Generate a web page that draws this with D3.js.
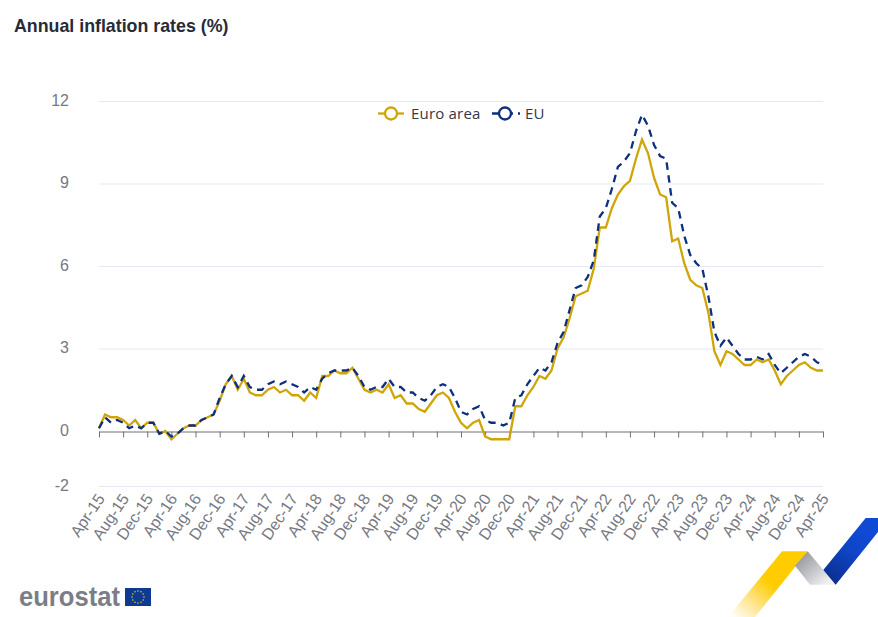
<!DOCTYPE html>
<html>
<head>
<meta charset="utf-8">
<script src="https://cdn.jsdelivr.net/npm/d3@7"></script>
<style>
  html, body { margin: 0; padding: 0; background: #fff; overflow: hidden; }
  svg { display: block; }
  text { font-family: "Liberation Sans", Arial, sans-serif; }
</style>
</head>
<body>
<div id="chart"></div>
<script>
var months = ["Jan","Feb","Mar","Apr","May","Jun","Jul","Aug","Sep","Oct","Nov","Dec"];

var euroArea = [
  0.1, 0.6, 0.5, 0.5, 0.4, 0.2, 0.4, 0.1, 0.3,
  0.3, -0.1, 0.0, -0.3, -0.1, 0.1, 0.2, 0.2, 0.4, 0.5, 0.6, 1.1,
  1.7, 2.0, 1.5, 1.9, 1.4, 1.3, 1.3, 1.5, 1.6, 1.4, 1.5, 1.3,
  1.3, 1.1, 1.4, 1.2, 2.0, 2.0, 2.2, 2.1, 2.1, 2.3, 1.9, 1.5,
  1.4, 1.5, 1.4, 1.7, 1.2, 1.3, 1.0, 1.0, 0.8, 0.7, 1.0, 1.3,
  1.4, 1.2, 0.7, 0.3, 0.1, 0.3, 0.4, -0.2, -0.3, -0.3, -0.3, -0.3,
  0.9, 0.9, 1.3, 1.6, 2.0, 1.9, 2.2, 3.0, 3.4, 4.1, 4.9, 5.0,
  5.1, 5.9, 7.4, 7.4, 8.1, 8.6, 8.9, 9.1, 9.9, 10.6, 10.1, 9.2,
  8.6, 8.5, 6.9, 7.0, 6.1, 5.5, 5.3, 5.2, 4.3, 2.9, 2.4, 2.9,
  2.8, 2.6, 2.4, 2.4, 2.6, 2.5, 2.6, 2.2, 1.7, 2.0, 2.2, 2.4,
  2.5, 2.3, 2.2, 2.2
];

var eu = [
  0.1, 0.5, 0.3, 0.4, 0.3, 0.1, 0.2, 0.1, 0.3,
  0.3, -0.1, 0.0, -0.2, -0.1, 0.1, 0.2, 0.2, 0.4, 0.5, 0.6, 1.2,
  1.7, 2.0, 1.6, 2.0, 1.6, 1.5, 1.5, 1.7, 1.8, 1.7, 1.8, 1.7,
  1.6, 1.4, 1.6, 1.5, 1.9, 2.1, 2.2, 2.2, 2.2, 2.3, 2.0, 1.6,
  1.5, 1.6, 1.6, 1.9, 1.6, 1.6, 1.4, 1.4, 1.2, 1.1, 1.3, 1.6,
  1.7, 1.6, 1.2, 0.7, 0.6, 0.8, 0.9, 0.4, 0.3, 0.3, 0.2, 0.3,
  1.2, 1.3, 1.7, 2.0, 2.3, 2.2, 2.5, 3.2, 3.6, 4.4, 5.2, 5.3,
  5.6, 6.2, 7.8, 8.1, 8.8, 9.6, 9.8, 10.1, 10.9, 11.5, 11.1, 10.4,
  10.0, 9.9, 8.3, 8.1, 7.1, 6.4, 6.1, 5.9, 4.9, 3.6, 3.1, 3.4,
  3.1, 2.8, 2.6, 2.6, 2.7, 2.6, 2.8, 2.4, 2.1, 2.3, 2.5, 2.7,
  2.8, 2.7, 2.5, 2.4
];

var yTicks = [-2, 0, 3, 6, 9, 12];

// Apr-15 .. Apr-25, one label per month, every 4th gets a tick
var periods = euroArea.map(function (d, i) {
  var m = 3 + i;
  return months[m % 12] + "-" + (15 + Math.floor(m / 12));
});
var xTicks = periods.filter(function (d, i) { return i % 4 === 0; });

var width = 878, height = 617;
var GOLD = "#cfa508", BLUE = "#0e2f7e", GREY = "#767983";

var svg = d3.select("#chart").append("svg")
  .attr("width", width)
  .attr("height", height);

var x = d3.scalePoint().domain(periods).range([99, 823]);
var y = d3.scaleLinear().domain([-2, 12]).range([486, 101]);

svg.append("text")
  .attr("x", 14).attr("y", 32)
  .attr("font-size", 17.8).attr("font-weight", "bold")
  .attr("fill", "#262b38")
  .text("Annual inflation rates (%)");

// gridlines
svg.append("g").selectAll("line")
  .data(yTicks.filter(function (d) { return d !== 0; }))
  .enter().append("line")
  .attr("x1", 99).attr("x2", 823)
  .attr("y1", function (d) { return y(d) + 0.5; })
  .attr("y2", function (d) { return y(d) + 0.5; })
  .attr("stroke", "#e6e9f3");

var yAxis = svg.append("g")
  .attr("transform", "translate(99,-1)")
  .call(d3.axisLeft(y).tickValues(yTicks).tickFormat(String).tickSize(0).tickPadding(30));
yAxis.select(".domain").remove();
yAxis.selectAll("text").attr("font-size", 16).attr("fill", GREY).style("font-family", '"Liberation Sans", Arial, sans-serif');

// x axis sits on zero, labels hang below the -2 gridline
var xAxis = svg.append("g")
  .attr("transform", "translate(0," + (y(0) + 0.5) + ")")
  .call(d3.axisBottom(x).tickValues(xTicks).tickSize(6).tickSizeOuter(0).tickPadding(0));
xAxis.select(".domain").attr("stroke", "#6f7177");
xAxis.selectAll(".tick line").attr("stroke", "#6f7177");
xAxis.selectAll("text")
  .attr("font-size", 16).attr("fill", GREY)
  .style("font-family", '"Liberation Sans", Arial, sans-serif')
  .attr("text-anchor", "end")
  .attr("dy", null).attr("y", null)
  .attr("transform", "translate(6,67) rotate(-56)");

var line = d3.line()
  .x(function (d, i) { return x(periods[i]); })
  .y(function (d) { return y(d); });

svg.append("path").datum(euroArea)
  .attr("d", line).attr("fill", "none")
  .attr("stroke", GOLD).attr("stroke-width", 2.3);

svg.append("path").datum(eu)
  .attr("d", line).attr("fill", "none")
  .attr("stroke", BLUE).attr("stroke-width", 2.3)
  .attr("stroke-dasharray", "7.5,5.5");

// legend
var legend = svg.append("g").attr("class", "legend");
function legendItem(x0, len, label, color, dash) {
  legend.append("line")
    .attr("x1", x0).attr("x2", x0 + len)
    .attr("y1", 113.5).attr("y2", 113.5)
    .attr("stroke", color).attr("stroke-width", 2.3)
    .attr("stroke-dasharray", dash);
  legend.append("circle")
    .attr("cx", x0 + 13).attr("cy", 113.5).attr("r", 6)
    .attr("fill", "#fff").attr("stroke", color).attr("stroke-width", 2.3);
  legend.append("text")
    .attr("x", x0 + 33).attr("y", 118.5)
    .attr("font-size", 15)
    .attr("letter-spacing", 0.2)
    .style("font-family", '"Open Sans", sans-serif')
    .attr("fill", "#333846")
    .text(label);
}
legendItem(378, 26, "Euro area", GOLD, null);
legendItem(492, 28, "EU", BLUE, "21,5");

// eurostat logo
svg.append("text")
  .attr("x", 19).attr("y", 606)
  .attr("font-size", 27).attr("font-weight", "bold")
  .attr("textLength", 101).attr("lengthAdjust", "spacingAndGlyphs")
  .attr("fill", "#7b7e86")
  .text("eurostat");
svg.append("rect")
  .attr("x", 125).attr("y", 588).attr("width", 26).attr("height", 18)
  .attr("fill", "#0f3a94");
svg.append("g").selectAll("circle")
  .data(d3.range(12))
  .enter().append("circle")
  .attr("cx", function (d) { return 138 + 6 * Math.cos(d * Math.PI / 6); })
  .attr("cy", function (d) { return 597 + 6 * Math.sin(d * Math.PI / 6); })
  .attr("r", 0.8)
  .attr("fill", "#e2c22a");

// ribbon in the bottom right corner
var defs = svg.append("defs");
function gradient(id, x1, y1, x2, y2, stops) {
  var g = defs.append("linearGradient").attr("id", id)
    .attr("gradientUnits", "userSpaceOnUse")
    .attr("x1", x1).attr("y1", y1).attr("x2", x2).attr("y2", y2);
  stops.forEach(function (s) {
    g.append("stop").attr("offset", s[0]).attr("stop-color", s[1]);
  });
}
gradient("ribbonYellow", 795, 551, 735, 617, [[0, "#ffcc00"], [0.45, "#ffcc00"], [0.75, "#ffe590"], [1, "#fffdf4"]]);
gradient("ribbonGrey", 797, 555, 825, 585, [[0, "#8f9196"], [1, "#f0f1f3"]]);
gradient("ribbonBlue", 828, 578, 862, 530, [[0, "#0c2f8f"], [0.6, "#0f45c8"], [1, "#0f49d4"]]);

svg.append("polygon")
  .attr("points", "782,551.3 807.7,551.3 755,617 728,617")
  .attr("fill", "url(#ribbonYellow)");
svg.append("polygon")
  .attr("points", "795,565.7 807.7,551.3 835.7,584.7 810,584.7")
  .attr("fill", "url(#ribbonGrey)");
svg.append("polygon")
  .attr("points", "835.7,584.7 823.3,570 865.7,518 878,518 878,532")
  .attr("fill", "url(#ribbonBlue)");
</script>
</body>
</html>
